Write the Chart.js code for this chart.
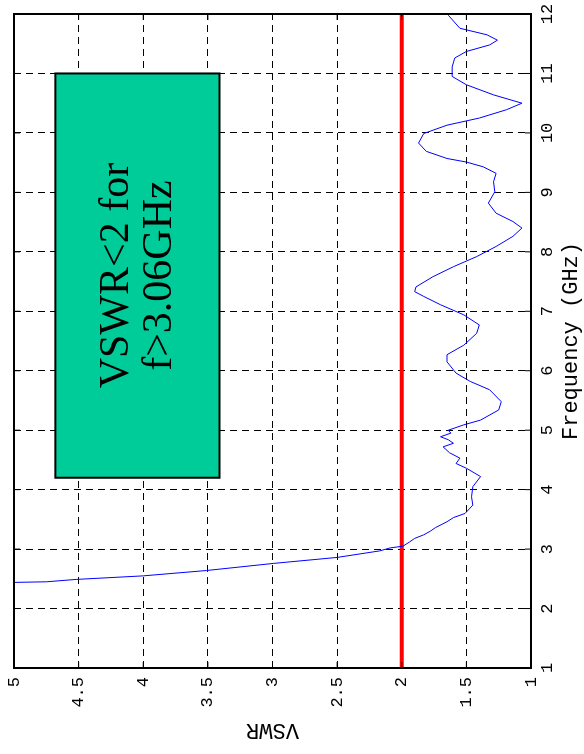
<!DOCTYPE html>
<html lang="en">
<head>
  <meta charset="UTF-8" />
  <title>VSWR vs Frequency</title>
  <script src="https://cdn.jsdelivr.net/npm/chart.js"></script>
  <style>
    html, body { margin: 0; padding: 0; background: #fff; overflow: hidden; }
    body { width: 584px; height: 754px; position: relative; }
    /* chart is drawn landscape, then turned a quarter turn counter-clockwise */
    #wrap { position: absolute; left: 0; top: 0; width: 754px; height: 584px;
            transform-origin: 0 0; transform: translate(0, 754px) rotate(-90deg); }
  </style>
</head>
<body>
  <div id="wrap"><canvas id="vswrChart" width="754" height="584"></canvas></div>

  <script>
    // measured curve (GHz / VSWR)
    const freq = [2.44, 2.45, 2.49, 2.55, 2.64, 2.76, 2.86, 2.97, 3.02, 3.05, 3.12, 3.18, 3.24, 3.3, 3.36, 3.46, 3.53, 3.6,
                  3.74, 3.88, 4.05, 4.22, 4.36, 4.44, 4.53, 4.62, 4.72, 4.78, 4.84, 4.89, 4.95, 5.0, 5.09, 5.17, 5.34, 5.48,
                  5.68, 5.82, 5.96, 6.15, 6.27, 6.43, 6.63, 6.77, 6.94, 7.11, 7.25, 7.33, 7.41, 7.58, 7.75, 7.92, 8.09,
                  8.26, 8.4, 8.51, 8.65, 8.82, 9.01, 9.18, 9.32, 9.43, 9.51, 9.57, 9.69, 9.83, 9.99, 10.13, 10.25,
                  10.39, 10.5, 10.64, 10.81, 10.95, 11.11, 11.26, 11.37, 11.48, 11.56, 11.65, 11.76, 11.98];
    const vswr = [5.0, 4.75, 4.52, 4.0, 3.51, 2.99, 2.5, 2.17, 2.09, 1.99, 1.94, 1.9, 1.83, 1.78, 1.74, 1.65, 1.6, 1.51,
                  1.45, 1.46, 1.45, 1.39, 1.5, 1.58, 1.55, 1.63, 1.68, 1.6, 1.64, 1.7, 1.62, 1.64, 1.52, 1.39, 1.25, 1.23,
                  1.32, 1.47, 1.58, 1.65, 1.65, 1.52, 1.42, 1.4, 1.52, 1.7, 1.83, 1.9, 1.89, 1.76, 1.6, 1.42, 1.27,
                  1.14, 1.07, 1.14, 1.27, 1.33, 1.28, 1.29, 1.27, 1.37, 1.5, 1.65, 1.81, 1.87, 1.83, 1.65, 1.4,
                  1.19, 1.07, 1.29, 1.5, 1.61, 1.61, 1.59, 1.5, 1.32, 1.26, 1.34, 1.55, 1.64];

    // VSWR = 2 limit
    const limitFreq = [1, 12];
    const limitVswr = [2, 2];

    // note box corners and text
    const boxFreq = [4.2, 11.0];
    const boxVswr = [3.41, 4.68];
    const boxLines = ['VSWR<2 for', 'f>3.06GHz'];
    const boxTextFreq = 7.6;

    const monoFont = "'Liberation Mono', 'DejaVu Sans Mono', monospace";

    // green note box, full frame and inward tick marks
    const annotate = {
      id: 'annotate',
      afterDatasetsDraw(chart) {
        const { ctx, chartArea: a, scales: { x, y } } = chart;
        ctx.save();

        const bx1 = x.getPixelForValue(boxFreq[0]), bx2 = x.getPixelForValue(boxFreq[1]);
        const by1 = y.getPixelForValue(boxVswr[1]), by2 = y.getPixelForValue(boxVswr[0]);
        ctx.fillStyle = '#00CC99';
        ctx.fillRect(bx1, by1, bx2 - bx1, by2 - by1);
        ctx.strokeStyle = '#000';
        ctx.lineWidth = 2;
        ctx.strokeRect(bx1, by1, bx2 - bx1, by2 - by1);

        const cx = x.getPixelForValue(boxTextFreq);
        const cy = (by1 + by2) / 2;
        ctx.fillStyle = '#000';
        ctx.font = "42px 'Liberation Serif', 'Times New Roman', serif";
        ctx.textAlign = 'center';
        ctx.textBaseline = 'alphabetic';
        ctx.fillText(boxLines[0], cx, cy - 9);
        ctx.fillText(boxLines[1], cx, cy + 34);

        ctx.lineWidth = 1;
        ctx.beginPath();
        x.ticks.forEach(t => {
          const px = x.getPixelForValue(t.value);
          ctx.moveTo(px, a.bottom); ctx.lineTo(px, a.bottom - 6);
          ctx.moveTo(px, a.top); ctx.lineTo(px, a.top + 6);
        });
        y.ticks.forEach(t => {
          const py = y.getPixelForValue(t.value);
          ctx.moveTo(a.left, py); ctx.lineTo(a.left + 6, py);
          ctx.moveTo(a.right, py); ctx.lineTo(a.right - 6, py);
        });
        ctx.stroke();

        ctx.lineWidth = 2;
        ctx.strokeRect(a.left, a.top, a.right - a.left, a.bottom - a.top);
        ctx.restore();
      }
    };

    new Chart(document.getElementById('vswrChart'), {
      type: 'line',
      data: {
        datasets: [{
          data: freq.map((f, i) => ({ x: f, y: vswr[i] })),
          borderColor: '#0000FF',
          borderWidth: 1,
          pointRadius: 0,
          tension: 0
        }, {
          data: limitFreq.map((f, i) => ({ x: f, y: limitVswr[i] })),
          borderColor: '#FF0000',
          borderWidth: 4,
          pointRadius: 0
        }]
      },
      options: {
        responsive: false,
        animation: false,
        devicePixelRatio: 1,
        layout: { padding: { top: 14, right: 14, left: 0, bottom: 0 } },
        plugins: { legend: { display: false }, tooltip: { enabled: false } },
        scales: {
          x: {
            type: 'linear', min: 1, max: 12,
            ticks: { stepSize: 1, color: '#000', padding: 6, maxRotation: 0,
                     font: { family: monoFont, size: 17 } },
            grid: { color: '#000', lineWidth: 1, drawTicks: false },
            border: { display: false, dash: [7, 5] },
            title: { display: true, text: 'Frequency (GHz)', color: '#000',
                     font: { family: monoFont, size: 22 }, padding: { top: 0, bottom: 0 } },
            afterFit(scale) { scale.height = 53; scale.paddingLeft = 0; scale.paddingRight = 0; }
          },
          y: {
            min: 1, max: 5,
            ticks: { stepSize: 0.5, color: '#000', padding: 9,
                     font: { family: monoFont, size: 17 },
                     callback: v => String(v) },
            grid: { color: '#000', lineWidth: 1, drawTicks: false },
            border: { display: false, dash: [7, 5] },
            title: { display: true, text: 'VSWR', color: '#000',
                     font: { family: monoFont, size: 22 }, padding: { top: 11, bottom: 0 } },
            afterFit(scale) { scale.width = 86; scale.paddingTop = 0; scale.paddingBottom = 0; }
          }
        }
      },
      plugins: [annotate]
    });
  </script>
</body>
</html>
